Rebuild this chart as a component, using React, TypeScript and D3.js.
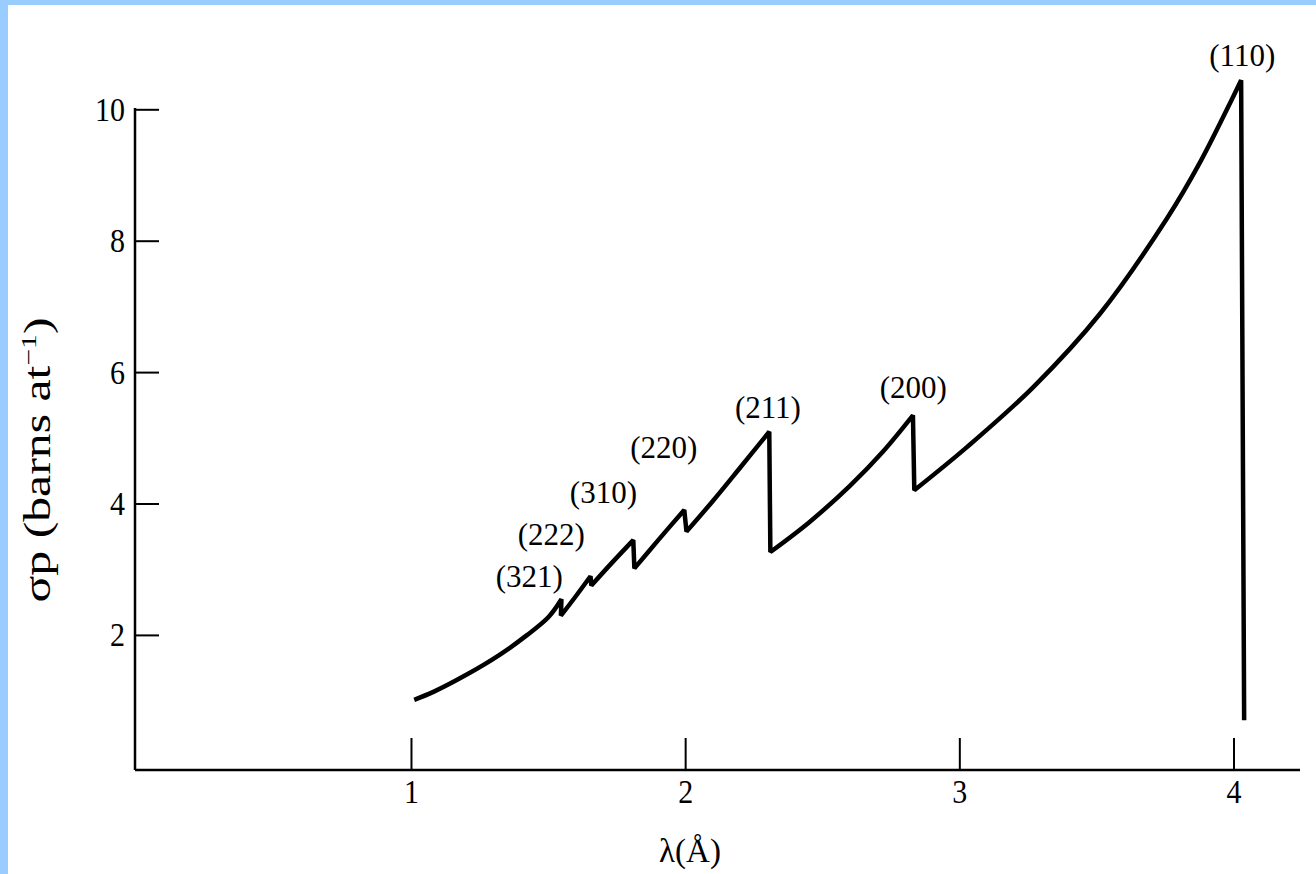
import React from "react";
import * as d3 from "d3";

// Tick values
const xTicks = [1, 2, 3, 4];
const yTicks = [2, 4, 6, 8, 10];

// Curve segments between Bragg cut-offs: [lambda (Å), sigma (barns/atom)]
const seg321: [number, number][] = [[1.01, 1.02], [1.08, 1.14], [1.2, 1.4], [1.32, 1.7], [1.42, 2.0], [1.5, 2.28], [1.547, 2.55]];
const seg222: [number, number][] = [[1.545, 2.3], [1.6, 2.6], [1.653, 2.9]];
const seg310: [number, number][] = [[1.656, 2.76], [1.73, 3.1], [1.809, 3.45]];
const seg220: [number, number][] = [[1.813, 3.02], [1.9, 3.45], [1.995, 3.91]];
const seg211: [number, number][] = [[2.003, 3.58], [2.1, 4.05], [2.2, 4.56], [2.305, 5.1]];
const seg200: [number, number][] = [[2.309, 3.27], [2.45, 3.72], [2.6, 4.28], [2.72, 4.8], [2.829, 5.35]];
const seg110: [number, number][] = [[2.834, 4.21], [3.027, 4.87], [3.268, 5.78], [3.512, 6.9], [3.756, 8.35], [3.876, 9.2], [3.997, 10.2], [4.026, 10.45]];
const finalDrop: [number, number] = [4.037, 0.71];

// Edge labels with anchor positions (lambda, sigma)
const edgeLabels = ["(321)", "(222)", "(310)", "(220)", "(211)", "(200)", "(110)"];
const edgeLabelX = [1.43, 1.51, 1.70, 1.92, 2.30, 2.83, 4.03];
const edgeLabelY = [2.74, 3.37, 4.02, 4.70, 5.31, 5.61, 10.67];

export default function App() {
  const W = 1316, H = 874;
  const x = d3.scaleLinear().domain([0, 4]).range([137.3, 1234]);
  const y = d3.scaleLinear().domain([0, 10]).range([766.8, 109.8]);
  const axisY = 770;
  const axisX = 135;

  const line = d3.line<[number, number]>().x(d => x(d[0])).y(d => y(d[1])).curve(d3.curveCatmullRom.alpha(0.5));
  const segs = [seg321, seg222, seg310, seg220, seg211, seg200, seg110];
  let d = "";
  segs.forEach((s, i) => {
    const p = line(s) || "";
    d += i === 0 ? p : "L" + p.slice(1);
  });
  d += `L${x(finalDrop[0])},${y(finalDrop[1])}`;

  const serif = "'Liberation Serif', 'Times New Roman', serif";

  return (
    <>
      <style>{`body{margin:0;}`}</style>
      <svg width={W} height={H} style={{ display: "block", background: "#fff" }}>
        <rect x={0} y={0} width={8} height={H} fill="#99ccff" />
        <rect x={0} y={0} width={W} height={5} fill="#99ccff" />
        {/* axes */}
        <line x1={axisX} y1={108} x2={axisX} y2={axisY} stroke="#000" strokeWidth={2.5} />
        <line x1={axisX} y1={axisY} x2={1300} y2={axisY} stroke="#000" strokeWidth={2.5} />
        {yTicks.map(t => (
          <g key={"y" + t}>
            <line x1={axisX} x2={axisX + 24} y1={y(t)} y2={y(t)} stroke="#000" strokeWidth={2} />
            <text transform={`translate(125,${y(t) + 11}) scale(1,1.12)`} textAnchor="end" fontFamily={serif} fontSize={30}>{t}</text>
          </g>
        ))}
        {xTicks.map(t => (
          <g key={"x" + t}>
            <line x1={x(t)} x2={x(t)} y1={axisY} y2={axisY - 32} stroke="#000" strokeWidth={2} />
            <text transform={`translate(${x(t)},803) scale(1,1.12)`} textAnchor="middle" fontFamily={serif} fontSize={30}>{t}</text>
          </g>
        ))}
        {/* curve */}
        <path d={d} fill="none" stroke="#000" strokeWidth={4.5} strokeLinejoin="miter" strokeMiterlimit={2} />
        {edgeLabels.map((l, i) => (
          <text key={l} x={x(edgeLabelX[i])} y={y(edgeLabelY[i])} textAnchor="middle" fontFamily={serif} fontSize={31}>{l}</text>
        ))}
        {/* axis titles */}
        <text x={690} y={862} textAnchor="middle" fontFamily={serif} fontSize={33}>λ(Å)</text>
        <text transform="translate(50,460) rotate(-90)" textAnchor="middle" fontFamily={serif} fontSize={37}
          textLength={285} lengthAdjust="spacingAndGlyphs">
          σp (barns at<tspan dy={-14} fontSize={22}>−1</tspan><tspan dy={14}>)</tspan>
        </text>
      </svg>
    </>
  );
}
